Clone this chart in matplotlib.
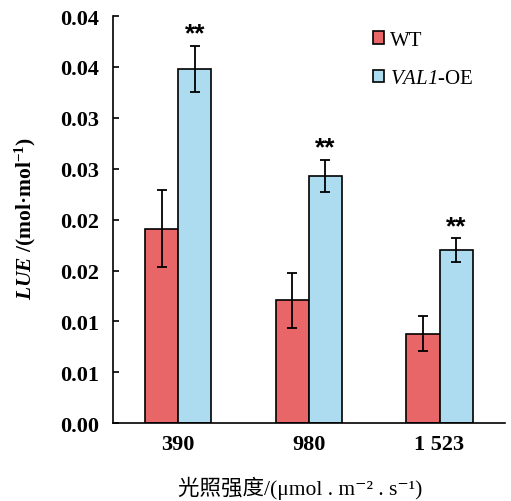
import numpy as np
import matplotlib
matplotlib.use("Agg")
import matplotlib.pyplot as plt

plt.rcParams['font.family'] = ['Liberation Serif', 'Noto Sans CJK SC', 'DejaVu Serif']
plt.rcParams['mathtext.fontset'] = 'custom'
plt.rcParams['mathtext.rm'] = 'Liberation Serif'
plt.rcParams['mathtext.it'] = 'Liberation Serif:italic'
plt.rcParams['mathtext.sf'] = 'Liberation Serif:italic'
plt.rcParams['mathtext.bf'] = 'Liberation Serif:bold'
plt.rcParams['mathtext.bfit'] = 'Liberation Serif:bold:italic'

# data
categories = ['390', '980', '1 523']
wt = [0.0191, 0.0121, 0.0088]
wt_err = [0.0038, 0.0027, 0.0017]
oe = [0.0348, 0.0243, 0.0170]
oe_err = [0.0023, 0.0016, 0.0012]
stars = ['**', '**', '**']
yticks = [0, 0.005, 0.01, 0.015, 0.02, 0.025, 0.03, 0.035, 0.04]
ytick_labels = ['0.00', '0.01', '0.01', '0.02', '0.02', '0.03', '0.03', '0.04', '0.04']

red = '#E96668'
blue = '#ADDCF0'

fig = plt.figure(figsize=(5.11, 5.02), dpi=100)
ax = fig.add_axes([0.221, 0.155, 0.767, 0.811])

x = np.arange(len(categories))
w = 0.253
err_kw = dict(ecolor='black', elinewidth=1.3, capsize=3.3, capthick=1.3)
ax.bar(x - w/2, wt, w, yerr=wt_err, color=red, edgecolor='black', linewidth=1.2,
       error_kw=err_kw, label='WT')
ax.bar(x + w/2, oe, w, yerr=oe_err, color=blue, edgecolor='black', linewidth=1.2,
       error_kw=err_kw, label='$\\mathsf{VAL1}$-OE')

for i in range(len(categories)):
    ax.annotate(stars[i], (x[i] + w/2, oe[i] + oe_err[i]), xytext=(0, 0),
                textcoords='offset points', ha='center', va='bottom',
                fontsize=19, family='Liberation Sans', fontweight='bold')

ax.set_xlim(-0.5, 2.5)
ax.set_ylim(0, 0.04)
ax.set_xticks(x)
ax.set_xticklabels(categories, fontsize=16, fontweight='bold')
ax.set_yticks(yticks)
ax.set_yticklabels(ytick_labels, fontsize=16, fontweight='bold')
ax.tick_params(axis='x', length=0, pad=8)
ax.tick_params(axis='y', direction='in', length=4.5, width=1.2, pad=10)
for s in ['top', 'right']:
    ax.spines[s].set_visible(False)
for s in ['left', 'bottom']:
    ax.spines[s].set_linewidth(1.2)

fig.text(0.049, 0.564, '$\\mathbfit{LUE}$ /(mol·mol$^{\\mathbf{-1}}$)', rotation=90,
         ha='center', va='center', fontsize=15.5, fontweight='bold')
fig.text(0.587, 0.028, '光照强度/(μmol . m⁻² . s⁻¹)', ha='center', va='center',
         fontsize=15.5)

ax.legend(loc='upper right', bbox_to_anchor=(0.957, 1.0), frameon=False, fontsize=15,
          handlelength=0.55, handleheight=0.55, handletextpad=0.3, labelspacing=0.95,
          borderaxespad=0.3)

fig.savefig('out.png', dpi=100)
